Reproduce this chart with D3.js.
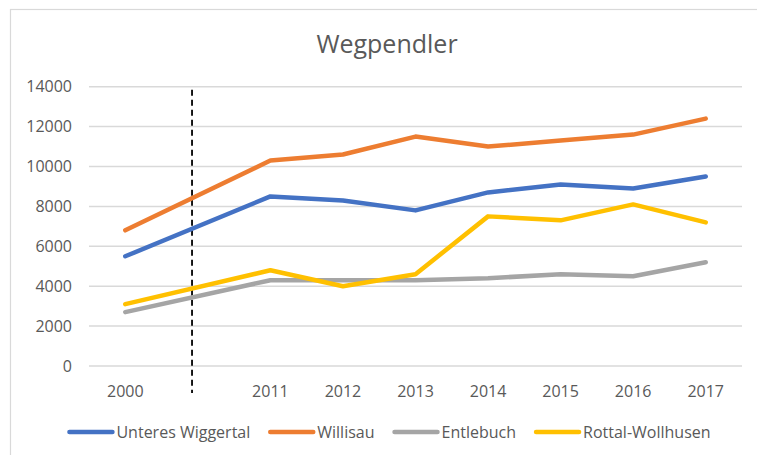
<!DOCTYPE html>
<html><head><meta charset="utf-8">
<script src="https://cdn.jsdelivr.net/npm/d3@7"></script>
<style>
html,body{margin:0;padding:0;background:#fff;}
svg{display:block;font-family:"Open Sans",sans-serif;}
</style></head>
<body><svg id="chart" width="757" height="455"></svg>
<script>
const title = "Wegpendler";
const categories = ["2000", "", "2011", "2012", "2013", "2014", "2015", "2016", "2017"];
const yTicks = [0, 2000, 4000, 6000, 8000, 10000, 12000, 14000];
const seriesNames = ["Unteres Wiggertal", "Willisau", "Entlebuch", "Rottal-Wollhusen"];
const seriesColors = ["#4472C4", "#ED7D31", "#A5A5A5", "#FFC000"];
const unteresWiggertal = [5500, null, 8500, 8300, 7800, 8700, 9100, 8900, 9500];
const willisau = [6800, null, 10300, 10600, 11500, 11000, 11300, 11600, 12400];
const entlebuch = [2700, null, 4300, 4300, 4300, 4400, 4600, 4500, 5200];
const rottalWollhusen = [3100, null, 4800, 4000, 4600, 7500, 7300, 8100, 7200];
const dividerPosition = 0.92; // in category units (between 2000 and 2011)

const seriesValues = [unteresWiggertal, willisau, entlebuch, rottalWollhusen];

const svg = d3.select("#chart");
const plot = {left: 89, right: 742, top: 86.7, bottom: 366};
const textColor = "#595959";

// chart border
svg.append("rect").attr("x", 10.5).attr("y", 9.5).attr("width", 760).attr("height", 460)
  .attr("fill", "#fff").attr("stroke", "#d9d9d9").attr("stroke-width", 1.2);

// title
svg.append("text").attr("x", 387).attr("y", 53).attr("text-anchor", "middle")
  .attr("fill", textColor).attr("font-size", 25).text(title);

const x = d3.scaleBand().domain(categories.map((c, i) => i)).range([plot.left, plot.right]).padding(0);
const xc = i => x(i) + x.bandwidth() / 2;
const y = d3.scaleLinear().domain([0, 14000]).range([plot.bottom, plot.top]);

// gridlines
svg.append("g").selectAll("line").data(yTicks).join("line")
  .attr("x1", plot.left).attr("x2", plot.right)
  .attr("y1", d => y(d)).attr("y2", d => y(d))
  .attr("stroke", "#d9d9d9").attr("stroke-width", 1.5);

// y axis labels
const yAxis = d3.axisLeft(y).tickValues(yTicks).tickSize(0).tickPadding(0).tickFormat(d3.format("d"));
const yg = svg.append("g").attr("transform", `translate(${plot.left - 17},0)`).call(yAxis);
yg.select(".domain").remove();
yg.selectAll("text").attr("fill", textColor).attr("font-size", 16).attr("font-family", "Open Sans");

// x axis labels
const xAxis = d3.axisBottom(x).tickSize(0).tickPadding(0).tickFormat(i => categories[i]);
const xg = svg.append("g").attr("transform", `translate(0,${plot.bottom + 19.5})`).call(xAxis);
xg.select(".domain").remove();
xg.selectAll("text").attr("fill", textColor).attr("font-size", 16).attr("font-family", "Open Sans");

// divider dashed line
const xLin = d3.scaleLinear().domain([0, categories.length - 1]).range([xc(0), xc(categories.length - 1)]);
svg.append("line").attr("x1", xLin(dividerPosition)).attr("x2", xLin(dividerPosition))
  .attr("y1", plot.top + 3).attr("y2", plot.bottom + 27)
  .attr("stroke", "#000").attr("stroke-width", 1.8).attr("stroke-dasharray", "6,4");

// lines
const line = d3.line().x(d => xc(d.i)).y(d => y(d.v));
seriesValues.forEach((vals, k) => {
  const pts = vals.map((v, i) => ({i, v})).filter(d => d.v != null);
  svg.append("path").datum(pts).attr("d", line).attr("fill", "none")
    .attr("stroke", seriesColors[k]).attr("stroke-width", 4.5)
    .attr("stroke-linejoin", "round").attr("stroke-linecap", "round");
});

// legend
const lg = svg.append("g");
const legendY = 432;
let cx = 0;
seriesNames.forEach((name, k) => {
  const g = lg.append("g");
  g.append("line").attr("x1", cx).attr("x2", cx + 43).attr("y1", legendY).attr("y2", legendY)
    .attr("stroke", seriesColors[k]).attr("stroke-width", 4.5).attr("stroke-linecap", "round");
  const t = g.append("text").attr("x", cx + 47).attr("y", legendY).attr("dy", "0.35em")
    .attr("fill", textColor).attr("font-size", 16).text(name);
  const w = t.node().getComputedTextLength();
  cx += 47 + w + 20;
});
const totalW = cx - 20;
lg.attr("transform", `translate(${390 - totalW / 2},0)`);
</script></body></html>
